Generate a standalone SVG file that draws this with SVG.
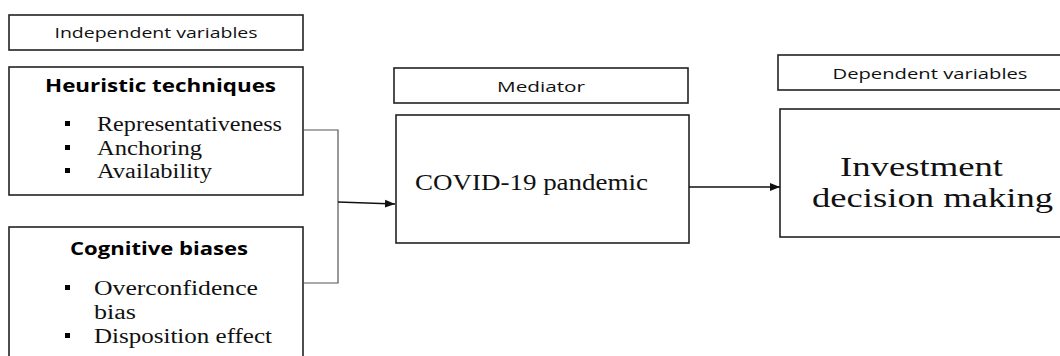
<svg xmlns="http://www.w3.org/2000/svg" width="1060" height="356" viewBox="0 0 1060 356">
<style>
.box{fill:#fff;stroke:#222;stroke-width:1.6}
.lbl{font-family:"Open Sans","Liberation Sans",sans-serif;font-size:14.5px;fill:#111;text-anchor:middle}
.ttl{font-family:"Open Sans","Liberation Sans",sans-serif;font-size:18px;font-weight:bold;fill:#000}
.it{font-family:"Liberation Serif","Times New Roman",serif;font-size:20px;fill:#111}
.big{font-family:"Liberation Serif","Times New Roman",serif;fill:#111}
.bul{fill:#000}
.con{fill:none;stroke:#555;stroke-width:1.2}
.arr{fill:none;stroke:#111;stroke-width:1.4;marker-end:url(#ah)}
</style>
<defs>
<marker id="ah" viewBox="0 0 10 10" refX="10" refY="5" markerWidth="10" markerHeight="10" markerUnits="userSpaceOnUse" orient="auto">
<path d="M0,1 L10,5 L0,9 Z" fill="#111"/>
</marker>
</defs>
<rect width="1060" height="356" fill="#fff"/>
<g id="independent-label">
<rect class="box" x="9" y="15" width="294" height="35"/>
<text class="lbl" x="156" y="38" textLength="203" lengthAdjust="spacingAndGlyphs">Independent variables</text>
</g>
<g id="heuristic">
<rect class="box" x="9" y="67" width="294" height="128"/>
<text class="ttl" x="45" y="92" textLength="231" lengthAdjust="spacingAndGlyphs">Heuristic techniques</text>
<rect class="bul" x="65" y="121" width="5" height="5"/>
<text class="it" x="97" y="131" textLength="185" lengthAdjust="spacingAndGlyphs">Representativeness</text>
<rect class="bul" x="65" y="145" width="5" height="5"/>
<text class="it" x="97" y="155" textLength="105" lengthAdjust="spacingAndGlyphs">Anchoring</text>
<rect class="bul" x="65" y="168" width="5" height="5"/>
<text class="it" x="97" y="178" textLength="115" lengthAdjust="spacingAndGlyphs">Availability</text>
</g>
<g id="cognitive">
<rect class="box" x="9" y="227" width="294" height="140"/>
<text class="ttl" x="70" y="255" textLength="178" lengthAdjust="spacingAndGlyphs">Cognitive biases</text>
<rect class="bul" x="65" y="285" width="5" height="5"/>
<text class="it" x="94" y="295" textLength="164" lengthAdjust="spacingAndGlyphs">Overconfidence</text>
<text class="it" x="94" y="319" textLength="42" lengthAdjust="spacingAndGlyphs">bias</text>
<rect class="bul" x="65" y="333" width="5" height="5"/>
<text class="it" x="94" y="343" textLength="178" lengthAdjust="spacingAndGlyphs">Disposition effect</text>
</g>
<g id="mediator-label">
<rect class="box" x="394" y="68" width="294" height="35"/>
<text class="lbl" x="541" y="92" textLength="88" lengthAdjust="spacingAndGlyphs">Mediator</text>
</g>
<g id="covid">
<rect class="box" x="396" y="115" width="293" height="128"/>
<text class="big" x="415" y="190" font-size="24" textLength="233" lengthAdjust="spacingAndGlyphs">COVID-19 pandemic</text>
</g>
<g id="dependent-label">
<rect class="box" x="778" y="55" width="300" height="35"/>
<text class="lbl" x="930" y="79" textLength="195" lengthAdjust="spacingAndGlyphs">Dependent variables</text>
</g>
<g id="investment">
<rect class="box" x="780" y="109" width="300" height="128"/>
<text class="big" x="840" y="176" font-size="27" textLength="163" lengthAdjust="spacingAndGlyphs">Investment</text>
<text class="big" x="812" y="207" font-size="27" textLength="241" lengthAdjust="spacingAndGlyphs">decision making</text>
</g>
<g id="connectors">
<polyline class="con" points="303,130 338,130 338,283 303,283"/>
<line class="arr" x1="338" y1="202" x2="395" y2="204"/>
<line class="arr" x1="689" y1="187" x2="780" y2="187"/>
</g>
</svg>
